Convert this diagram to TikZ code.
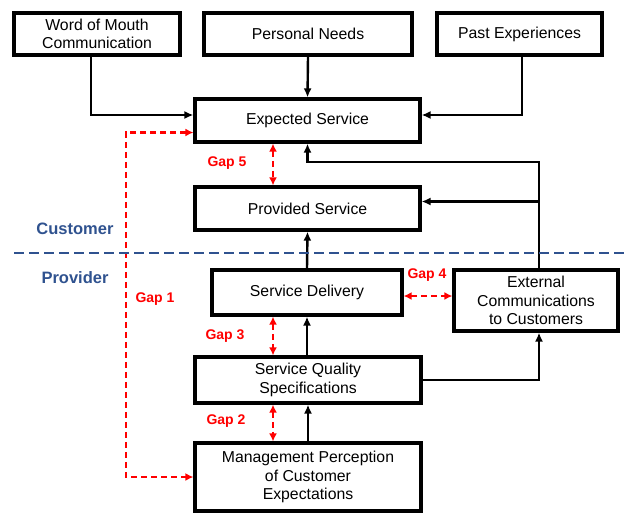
\documentclass[tikz,border=0pt]{standalone}
\usepackage{fontspec}
\setmainfont{Liberation Sans}
\usetikzlibrary{arrows.meta}
\definecolor{gapred}{RGB}{255,0,0}
\definecolor{sideblue}{RGB}{47,82,143}
\tikzset{
  box/.style={draw,line width=3.2pt,align=center,inner sep=1pt,font=\fontsize{15.8}{18.5}\selectfont},
  conn/.style={line width=2.4pt,-{Latex[length=9pt,width=8pt]}},
  gap/.style={line width=2.2pt,gapred,dash pattern=on 6pt off 4pt,{Latex[length=8pt,width=8pt]}-{Latex[length=8pt,width=8pt]}},
  gaplabel/.style={gapred,font=\fontsize{14}{16}\selectfont\bfseries},
  sidelabel/.style={sideblue,font=\fontsize{16.5}{19}\selectfont\bfseries}
}
\begin{document}
\begin{tikzpicture}[x=1pt,y=-1pt]
\useasboundingbox (0,0) rectangle (626,512);
\node[box,minimum width=166pt,minimum height=42pt] (wom) at (97,34) {Word of Mouth\\Communication};
\node[box,minimum width=208pt,minimum height=42pt] (needs) at (308,34) {Personal Needs};
\node[box,minimum width=165pt,minimum height=42pt] (past) at (519.5,34) {Past Experiences};
\node[box,minimum width=225pt,minimum height=43pt] (expected) at (307.5,120.5) {Expected Service};
\node[box,minimum width=225pt,minimum height=43pt] (provided) at (307.5,208.5) {Provided Service};
\node[box,minimum width=190pt,minimum height=45pt] (delivery) at (307,292.5) {Service Delivery};
\node[box,minimum width=164pt,minimum height=61pt] (extcomm) at (536,300.5) {External\\Communications\\to Customers};
\node[box,minimum width=226pt,minimum height=46pt] (sqs) at (308,380) {Service Quality\\Specifications};
\node[box,minimum width=226pt,minimum height=68pt] (mgmt) at (308,477) {Management Perception\\of Customer\\Expectations};

\coordinate (topturn) at (539,162);
\coordinate (gx) at (273,0);
\coordinate (g1x) at (126,300);
\coordinate (divl) at (14,253);
\coordinate (divr) at (626,253);

\draw[conn] ([xshift=-6pt]wom.south) |- ([yshift=5.5pt]expected.west);
\draw[conn] (needs.south) -- (expected.north);
\draw[conn] ([xshift=2.5pt]past.south) |- ([yshift=5.5pt]expected.east);
\draw[conn] ([xshift=3pt]extcomm.north) -- (topturn) -| (expected.south);
\draw[conn] (topturn |- provided.east) ++(0,-7) -- ([yshift=7pt]provided.east);
\draw[conn] (delivery.north) -- (provided.south);
\draw[conn] (sqs.north -| delivery.south) -- (delivery.south);
\draw[conn] (mgmt.north) -- (sqs.south);
\draw[conn] (sqs.east) -| ([xshift=3pt]extcomm.south);

\draw[gap] (expected.south -| gx) -- (provided.north -| gx);
\draw[gap] (delivery.south -| gx) -- (sqs.north -| gx);
\draw[gap] (sqs.south -| gx) -- (mgmt.north -| gx);
\draw[gap] ([yshift=-3.5pt]delivery.east) -- ([yshift=-3.5pt]extcomm.west |- delivery.east);
\draw[gap] ([yshift=-12pt]expected.west) -| (g1x) |- (mgmt.west);

\node[gaplabel] (lgap5) at (227,163) {Gap 5};
\node[gaplabel] (lgap4) at (427,275) {Gap 4};
\node[gaplabel] (lgap3) at (225,336) {Gap 3};
\node[gaplabel] (lgap2) at (226,421) {Gap 2};
\node[gaplabel] (lgap1) at (155,299) {Gap 1};

\draw[sideblue,line width=2pt,dash pattern=on 10pt off 5pt] (divl) -- (divr);
\node[sidelabel] (customer) at (75,229) {Customer};
\node[sidelabel] (provider) at (75,278) {Provider};
\end{tikzpicture}
\end{document}
